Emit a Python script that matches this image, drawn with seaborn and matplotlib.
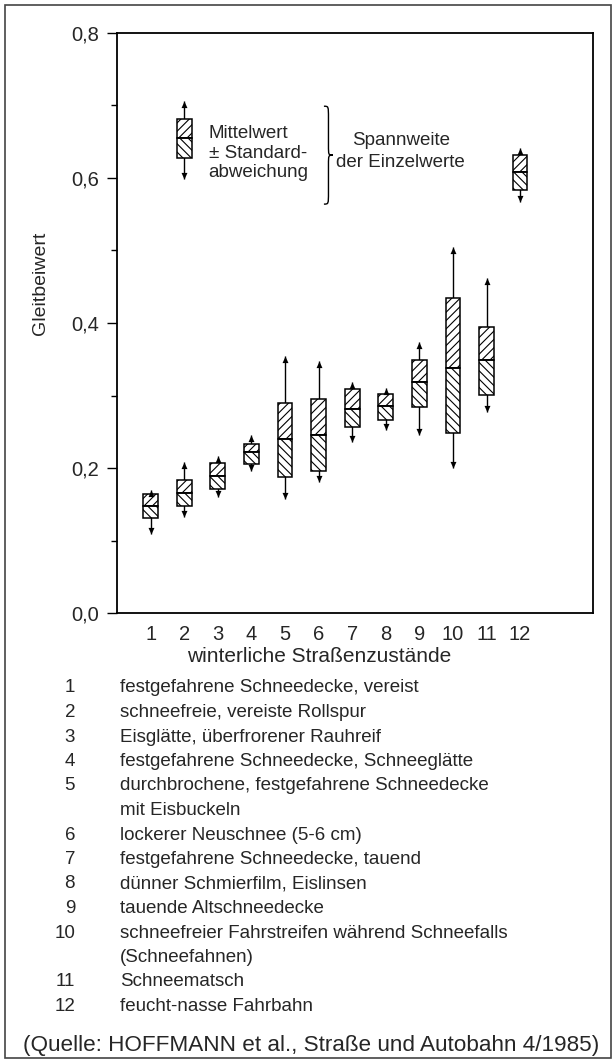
import matplotlib
matplotlib.use("Agg")
import matplotlib.pyplot as plt
from matplotlib.path import Path
from matplotlib.patches import PathPatch, Rectangle
from matplotlib.ticker import FuncFormatter, MultipleLocator
import pandas as pd
import seaborn as sns

# Gleitbeiwerte je winterlichem Straßenzustand
zustand = list(range(1, 13))
mittelwert = [0.148, 0.166, 0.189, 0.222, 0.240, 0.245, 0.282, 0.285, 0.318, 0.338, 0.349, 0.608]
std_oben = [0.164, 0.184, 0.207, 0.233, 0.290, 0.295, 0.309, 0.302, 0.349, 0.434, 0.395, 0.632]
std_unten = [0.131, 0.147, 0.171, 0.206, 0.187, 0.196, 0.257, 0.266, 0.284, 0.248, 0.301, 0.583]
maximum = [0.170, 0.208, 0.216, 0.245, 0.355, 0.348, 0.319, 0.311, 0.374, 0.505, 0.462, 0.642]
minimum = [0.109, 0.132, 0.160, 0.196, 0.157, 0.181, 0.236, 0.252, 0.245, 0.200, 0.277, 0.567]

# Symbolerklärung (Beispielsymbol)
legende_x = [2]
legende_mittel = [0.655]
legende_oben = [0.681]
legende_unten = [0.627]
legende_max = [0.706]
legende_min = [0.598]

y_ticks = [0.0, 0.2, 0.4, 0.6, 0.8]

beschreibung_nr = ["1", "2", "3", "4", "5", "", "6", "7", "8", "9", "10", "", "11", "12"]
beschreibung_text = [
    "festgefahrene Schneedecke, vereist",
    "schneefreie, vereiste Rollspur",
    "Eisglätte, überfrorener Rauhreif",
    "festgefahrene Schneedecke, Schneeglätte",
    "durchbrochene, festgefahrene Schneedecke",
    "mit Eisbuckeln",
    "lockerer Neuschnee (5-6 cm)",
    "festgefahrene Schneedecke, tauend",
    "dünner Schmierfilm, Eislinsen",
    "tauende Altschneedecke",
    "schneefreier Fahrstreifen während Schneefalls",
    "(Schneefahnen)",
    "Schneematsch",
    "feucht-nasse Fahrbahn",
]

sns.set_theme(style="ticks")
plt.rcParams["font.family"] = ["Liberation Sans", "DejaVu Sans"]
plt.rcParams["hatch.linewidth"] = 0.8
plt.rcParams["hatch.color"] = "black"

W, H = 614, 1063
fig = plt.figure(figsize=(W / 100, H / 100), dpi=100)
fig.patch.set_facecolor("white")


def fx(px):
    return px / W


def fy(py):
    return 1 - py / H


ax = fig.add_axes([fx(117), fy(613), fx(593) - fx(117), (613 - 33) / H])
ax.set_facecolor("white")

# Pfeilspitzen mit der Spitze im Datenpunkt
pfeil_auf = Path([(0, 0), (-0.45, -1), (0.45, -1), (0, 0)],
                 [Path.MOVETO, Path.LINETO, Path.LINETO, Path.CLOSEPOLY])
pfeil_ab = Path([(0, 0), (-0.45, 1), (0.45, 1), (0, 0)],
                [Path.MOVETO, Path.LINETO, Path.LINETO, Path.CLOSEPOLY])


def zeichne(df):
    breite = 0.44
    ax.vlines(df["x"], df["min"], df["max"], color="black", lw=1.0, zorder=1)
    ax.bar(df["x"], df["oben"] - df["mittel"], bottom=df["mittel"], width=breite,
           facecolor="white", edgecolor="black", hatch="////", lw=1.1, zorder=2)
    ax.bar(df["x"], df["mittel"] - df["unten"], bottom=df["unten"], width=breite,
           facecolor="white", edgecolor="black", hatch="\\\\\\\\", lw=1.1, zorder=2)
    ax.hlines(df["mittel"], df["x"] - breite / 2, df["x"] + breite / 2,
              color="black", lw=1.1, zorder=3)
    sns.scatterplot(data=df, x="x", y="max", marker=pfeil_auf, s=90, color="black",
                    linewidth=0, ax=ax, zorder=4, legend=False)
    sns.scatterplot(data=df, x="x", y="min", marker=pfeil_ab, s=90, color="black",
                    linewidth=0, ax=ax, zorder=4, legend=False)


daten = pd.DataFrame({"x": zustand, "mittel": mittelwert, "oben": std_oben,
                      "unten": std_unten, "max": maximum, "min": minimum})
legende = pd.DataFrame({"x": legende_x, "mittel": legende_mittel, "oben": legende_oben,
                        "unten": legende_unten, "max": legende_max, "min": legende_min})
zeichne(daten)
zeichne(legende)

ax.set_xlim(0, 14.17)
ax.set_ylim(0, 0.8)
ax.set_xticks(zustand)
ax.set_xticklabels([str(z) for z in zustand], fontsize=14.5)
ax.set_yticks(y_ticks)
ax.yaxis.set_minor_locator(MultipleLocator(0.1))
ax.yaxis.set_major_formatter(FuncFormatter(lambda v, p: f"{v:.1f}".replace(".", ",")))
ax.tick_params(axis="y", which="major", length=7, width=1.0, labelsize=14.5, pad=6, color="black")
ax.tick_params(axis="y", which="minor", length=4, width=1.0, color="black")
ax.tick_params(axis="x", length=0, pad=9)
ax.set_xlabel("")
ax.set_ylabel("")
for s in ax.spines.values():
    s.set_visible(True)
    s.set_color("black")
    s.set_linewidth(1.3)

# Erklärung des Symbols
ax.text(2.73, 0.662, "Mittelwert", fontsize=13.5, ha="left", va="center")
ax.text(2.73, 0.634, "± Standard-", fontsize=13.5, ha="left", va="center")
ax.text(2.73, 0.608, "abweichung", fontsize=13.5, ha="left", va="center")
ax.text(8.45, 0.652, "Spannweite", fontsize=13.5, ha="center", va="center")
ax.text(8.45, 0.621, "der Einzelwerte", fontsize=13.5, ha="center", va="center")

# geschweifte Klammer
x0, w, yt, yb = 6.16, 0.27, 0.699, 0.564
ym, h = (yt + yb) / 2, yt - yb
xm = x0 + w / 2
verts = [(x0, yt), (xm, yt), (xm, yt), (xm, yt - 0.12 * h),
         (xm, ym + 0.1 * h),
         (xm, ym), (xm, ym), (x0 + w, ym),
         (xm, ym), (xm, ym), (xm, ym - 0.1 * h),
         (xm, yb + 0.12 * h),
         (xm, yb), (xm, yb), (x0, yb)]
codes = [Path.MOVETO, Path.CURVE4, Path.CURVE4, Path.CURVE4,
         Path.LINETO,
         Path.CURVE4, Path.CURVE4, Path.CURVE4,
         Path.CURVE4, Path.CURVE4, Path.CURVE4,
         Path.LINETO,
         Path.CURVE4, Path.CURVE4, Path.CURVE4]
ax.add_patch(PathPatch(Path(verts, codes), facecolor="none", edgecolor="black", lw=1.0))

# Achsentitel
fig.text(fx(40), fy(283), "Gleitbeiwert", rotation=90, fontsize=14, ha="center", va="center")
fig.text(fx(319), fy(657), "winterliche Straßenzustände", fontsize=15, ha="center", va="center")

# Legende der Straßenzustände
for i, (nr, txt) in enumerate(zip(beschreibung_nr, beschreibung_text)):
    y = 688 + i * 24.5
    if nr:
        fig.text(fx(75), fy(y), nr, fontsize=13.5, ha="right", va="center")
    fig.text(fx(120), fy(y), txt, fontsize=13.5, ha="left", va="center")

fig.text(fx(23), fy(1046), "(Quelle: HOFFMANN et al., Straße und Autobahn 4/1985)",
         fontsize=16.2, ha="left", va="center")

# Rahmen um die gesamte Abbildung
fig.patches.append(Rectangle((fx(5), fy(1058)), fx(611) - fx(5), fy(5) - fy(1058),
                             transform=fig.transFigure, fill=False,
                             edgecolor="#444444", lw=1.2))

fig.savefig("out.png", dpi=100, facecolor="white")
